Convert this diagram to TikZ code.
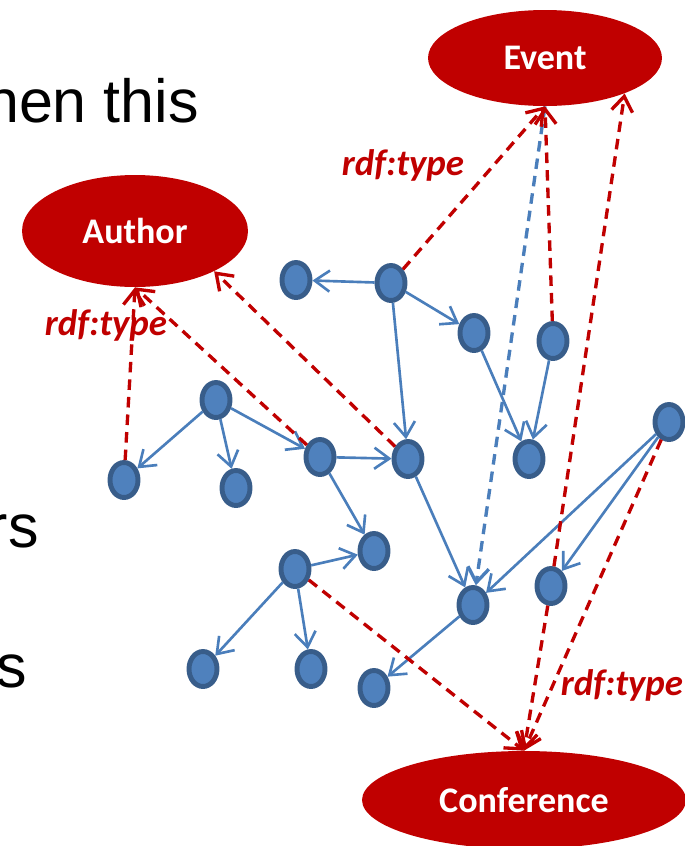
\documentclass[tikz,border=0pt]{standalone}
\usepackage{fontspec}
\setmainfont{Carlito}
\newfontfamily\slidefont{Liberation Sans}
\usetikzlibrary{shapes.geometric,arrows.meta}
\definecolor{classred}{HTML}{C00000}
\definecolor{instfill}{HTML}{4F81BD}
\definecolor{instline}{HTML}{385D8A}
\definecolor{linkblue}{HTML}{4A7EBB}

\begin{document}
\begin{tikzpicture}[x=0.02cm, y=-0.02cm,
    inst/.style={ellipse, draw=instline, fill=instfill, line width=2.8pt,
        minimum width=0.56cm, minimum height=0.7cm, inner sep=0pt},
    cls/.style={ellipse, fill=classred, text=white, inner sep=0pt,
        font=\fontsize{20.5}{24}\selectfont\bfseries},
    link/.style={draw=linkblue, line width=1.5pt, -{Straight Barb[length=8.5pt,width=12pt]}},
    typeof/.style={draw=classred, line width=1.9pt, dash pattern=on 6pt off 4pt,
        -{Straight Barb[length=8.5pt,width=12pt]}},
    lbl/.style={text=classred, anchor=base, font=\fontsize{21}{24}\selectfont\bfseries\itshape},
    slide/.style={anchor=base east, inner sep=0pt, font=\slidefont\fontsize{34.7}{40}\selectfont}]
    \useasboundingbox (0,0) rectangle (685,846);

    \node[slide] (s1) at (199,122) {hen this};
    \node[slide] (s2) at (39,547) {rs};
    \node[slide] (s3) at (27,687) {s};

    \node[cls, minimum width=4.68cm, minimum height=1.92cm] (event) at (545,58) {Event};
    \node[cls, minimum width=4.52cm, minimum height=2.24cm] (author) at (135,231) {Author};
    \node[cls, minimum width=6.48cm, minimum height=1.96cm] (conf) at (524,800) {Conference};

    \node[inst] (i1) at (296,280) {};
    \node[inst] (i2) at (391,283) {};
    \node[inst] (i3) at (474,333) {};
    \node[inst] (i4) at (553,341) {};
    \node[inst] (i5) at (216,400) {};
    \node[inst] (i6) at (669,422) {};
    \node[inst] (i7) at (124,480) {};
    \node[inst] (i8) at (236,488) {};
    \node[inst] (i9) at (320,457) {};
    \node[inst] (i10) at (408,459) {};
    \node[inst] (i11) at (529,459) {};
    \node[inst] (i12) at (374,551) {};
    \node[inst] (i13) at (295,569) {};
    \node[inst] (i14) at (551,586) {};
    \node[inst] (i15) at (473,605) {};
    \node[inst] (i16) at (203,669) {};
    \node[inst] (i17) at (311,669) {};
    \node[inst] (i18) at (374,688) {};

    \draw[link] (i2) -- (i1);
    \draw[link] (i2) -- (i3);
    \draw[link] (i2) -- (i10);
    \draw[link] (i3) -- (i11);
    \draw[link] (i4) -- (i11);
    \draw[link] (i5) -- (i7);
    \draw[link] (i5) -- (i8);
    \draw[link] (i5) -- (i9);
    \draw[link] (i9) -- (i10);
    \draw[link] (i9) -- (i12);
    \draw[link] (i10) -- (i15);
    \draw[link] (i6) -- (i15);
    \draw[link] (i6) -- (i14);
    \draw[link] (i13) -- (i12);
    \draw[link] (i13) -- (i16);
    \draw[link] (i13) -- (i17);
    \draw[link] (i15) -- (i18);
    \draw[link, line width=1.9pt, dash pattern=on 6pt off 4pt] (event.south) -- (i15);

    \draw[typeof] (i2) -- (event.south);
    \draw[typeof] (i4) -- (event.south);
    \draw[typeof] (i14) -- (event.-24);
    \draw[typeof] (i14) -- (conf.north);
    \draw[typeof] (i6) -- (conf.north);
    \draw[typeof] (i13) -- (conf.north);
    \draw[typeof] (i7) -- (author.south);
    \draw[typeof] (i9) -- (author.south);
    \draw[typeof] (i10) -- (author.-27);

    \node[lbl] (t1) at (403,175) {rdf:type};
    \node[lbl] (t2) at (106,335) {rdf:type};
    \node[lbl] (t3) at (622,695) {rdf:type};
\end{tikzpicture}
\end{document}
